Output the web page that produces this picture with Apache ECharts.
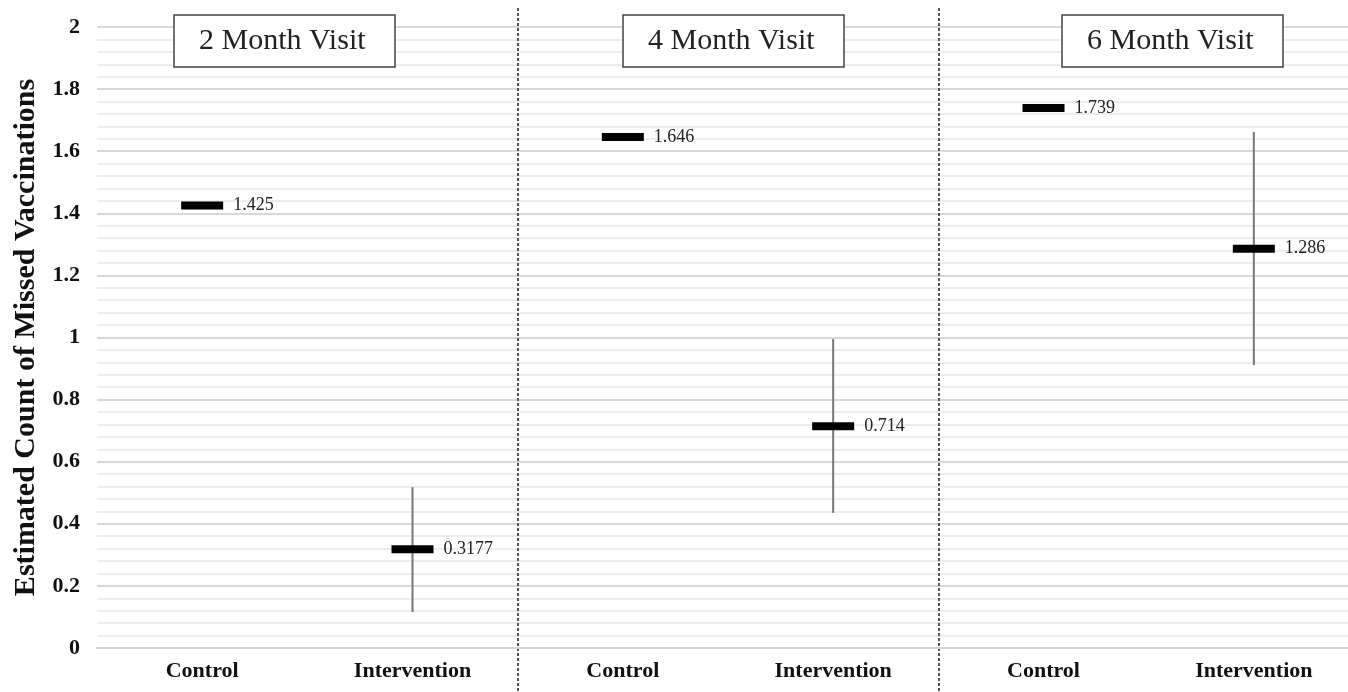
<!DOCTYPE html>
<html>
<head>
<meta charset="utf-8">
<script src="https://cdn.jsdelivr.net/npm/echarts@6/dist/echarts.min.js"></script>
<style>
  html, body { margin: 0; padding: 0; background: #fff; }
  #chart { width: 1348px; height: 692px; }
</style>
</head>
<body>
<div id="chart"></div>
<script>
const categories = ['Control', 'Intervention', 'Control', 'Intervention', 'Control', 'Intervention']
const means = [1.425, 0.3177, 1.646, 0.714, 1.739, 1.286]
const lowers = [null, 0.116, null, 0.435, null, 0.911]
const uppers = [null, 0.518, null, 0.995, null, 1.662]
const panelTitles = ['2 Month Visit', '4 Month Visit', '6 Month Visit']
const separatorIndexes = [2, 4]

const serif = "'Liberation Serif', 'Times New Roman', serif"
const gridLeft = 97
const gridWidth = 1262

const chart = echarts.init(document.getElementById('chart'))

const errorData = []
means.forEach((m, i) => {
  if (lowers[i] != null) errorData.push([i, lowers[i], uppers[i]])
})

const panelLeft = [174, 623, 1062]

chart.setOption({
  animation: false,
  title: panelTitles.map((t, i) => ({
    text: t,
    left: panelLeft[i],
    top: 15,
    padding: [11, 30, 11, 25],
    borderColor: '#444',
    borderWidth: 1.5,
    backgroundColor: '#fff',
    textStyle: { fontFamily: serif, fontSize: 30, fontWeight: 'normal', color: '#222' },
  })),
  grid: [
    { left: gridLeft, top: 27, width: gridWidth, bottom: 44, outerBoundsMode: 'none' },
    { left: gridLeft, top: 8, width: gridWidth, bottom: 0, outerBoundsMode: 'none' },
  ],
  xAxis: [
    {
      type: 'category',
      data: categories,
      gridIndex: 0,
      axisLine: { lineStyle: { color: '#d4d4d4', width: 2 } },
      axisTick: { show: false },
      axisLabel: {
        fontFamily: serif, fontSize: 22, fontWeight: 'bold', color: '#111', margin: 12,
      },
      splitLine: { show: false },
    },
    {
      type: 'category',
      data: categories,
      gridIndex: 1,
      axisLine: { show: false },
      axisTick: { show: false },
      axisLabel: { show: false },
      splitLine: {
        show: true,
        interval: (index) => separatorIndexes.includes(index),
        lineStyle: { color: '#555', width: 2, type: [3, 2] },
      },
    },
  ],
  yAxis: [
    {
      type: 'value',
      gridIndex: 0,
      min: 0,
      max: 2,
      interval: 0.2,
      name: 'Estimated Count of Missed Vaccinations',
      nameLocation: 'middle',
      nameGap: 53,
      nameTextStyle: { fontFamily: serif, fontSize: 30, fontWeight: 'bold', color: '#111' },
      axisLine: { show: false },
      axisTick: { show: false },
      axisLabel: { fontFamily: serif, fontSize: 22, fontWeight: 'bold', color: '#111', margin: 17 },
      splitLine: { lineStyle: { color: '#d8d8d8', width: 2 } },
      minorTick: { show: false, splitNumber: 5 },
      minorSplitLine: { show: true, lineStyle: { color: '#e8e8e8', width: 1.5 } },
    },
    { type: 'value', gridIndex: 1, show: false },
  ],
  series: [
    {
      type: 'custom',
      xAxisIndex: 0,
      yAxisIndex: 0,
      data: errorData,
      z: 2,
      renderItem: (params, api) => {
        const lo = api.coord([api.value(0), api.value(1)])
        const hi = api.coord([api.value(0), api.value(2)])
        return {
          type: 'line',
          shape: { x1: lo[0], y1: lo[1], x2: hi[0], y2: hi[1] },
          style: { stroke: '#777', lineWidth: 2 },
        }
      },
    },
    {
      type: 'scatter',
      xAxisIndex: 0,
      yAxisIndex: 0,
      z: 3,
      symbol: 'rect',
      symbolSize: [42, 8],
      itemStyle: { color: '#000', opacity: 1 },
      data: means.map((m, i) => [i, m]),
      label: {
        show: true,
        position: 'right',
        distance: 10,
        formatter: (p) => String(p.value[1]),
        fontFamily: serif,
        fontSize: 18,
        color: '#222',
      },
    },
  ],
})
</script>
</body>
</html>
